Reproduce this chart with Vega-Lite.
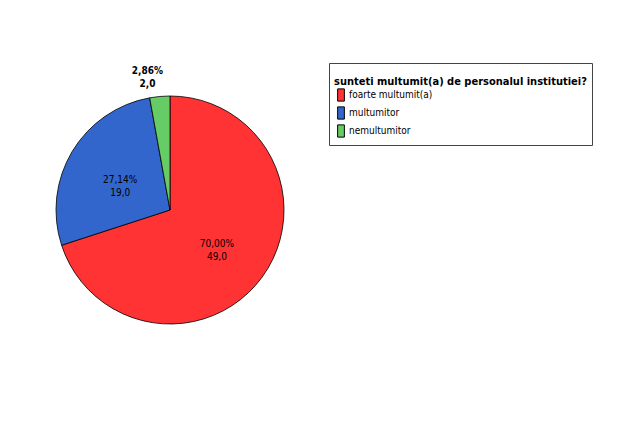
{
  "$schema": "https://vega.github.io/schema/vega-lite/v6.json",
  "width": 340,
  "height": 420,
  "autosize": {"type": "none"},
  "padding": {"left": 0, "top": 0, "right": 283, "bottom": 1},
  "background": "white",
  "config": {"view": {"stroke": null}, "font": "DejaVu Sans Condensed, Liberation Sans, sans-serif"},
  "data": {
    "values": [
      {"cat": "foarte multumit(a)", "ord": 1, "count": 49, "label": "70,00%\n49,0", "pos": "in"},
      {"cat": "multumitor", "ord": 2, "count": 19, "label": "27,14%\n19,0", "pos": "in"},
      {"cat": "nemultumitor", "ord": 3, "count": 2, "label": "2,86%\n2,0", "pos": "out"}
    ]
  },
  "encoding": {
    "theta": {"field": "count", "type": "quantitative", "stack": true},
    "order": {"field": "ord", "type": "quantitative"}
  },
  "layer": [
    {
      "mark": {"type": "arc", "outerRadius": 114, "stroke": "black", "strokeWidth": 0.8},
      "encoding": {
        "color": {
          "field": "cat",
          "type": "nominal",
          "sort": ["foarte multumit(a)", "multumitor", "nemultumitor"],
          "scale": {"domain": ["foarte multumit(a)", "multumitor", "nemultumitor"], "range": ["#FF3333", "#3366CC", "#66CC66"]},
          "legend": {
            "title": ["", "sunteti multumit(a) de personalul institutiei?"],
            "orient": "none",
            "legendX": 329,
            "legendY": 63,
            "padding": 5,
            "fillColor": "white",
            "strokeColor": "#444444",
            "titleFont": "DejaVu Sans Condensed, Liberation Sans, sans-serif",
            "titleFontSize": 11,
            "titleFontWeight": "bold",
            "titleColor": "black",
            "titleLineHeight": 8,
            "titlePadding": 1,
            "titleLimit": 400,
            "labelFont": "DejaVu Sans Condensed, Liberation Sans, sans-serif",
            "labelFontSize": 10,
            "labelColor": "black",
            "labelOffset": 1,
            "symbolType": "M-0.55,-1H0.55V1H-0.55Z",
            "symbolSize": 150,
            "symbolStrokeColor": "black",
            "symbolStrokeWidth": 1,
            "symbolOpacity": 1,
            "rowPadding": 0,
            "symbolOffset": 0
          }
        }
      }
    },
    {
      "mark": {"type": "text", "radius": 58, "fontSize": 10, "lineBreak": "\n", "color": "black", "align": "center", "lineHeight": 13},
      "encoding": {"text": {"condition": {"test": "datum.pos == 'in'", "field": "label"}, "value": ""}}
    },
    {
      "mark": {"type": "text", "radius": 140, "dx": -10, "fontSize": 10, "fontWeight": "bold", "lineBreak": "\n", "color": "black", "align": "center", "lineHeight": 13},
      "encoding": {"text": {"condition": {"test": "datum.pos == 'out'", "field": "label"}, "value": ""}}
    }
  ]
}
